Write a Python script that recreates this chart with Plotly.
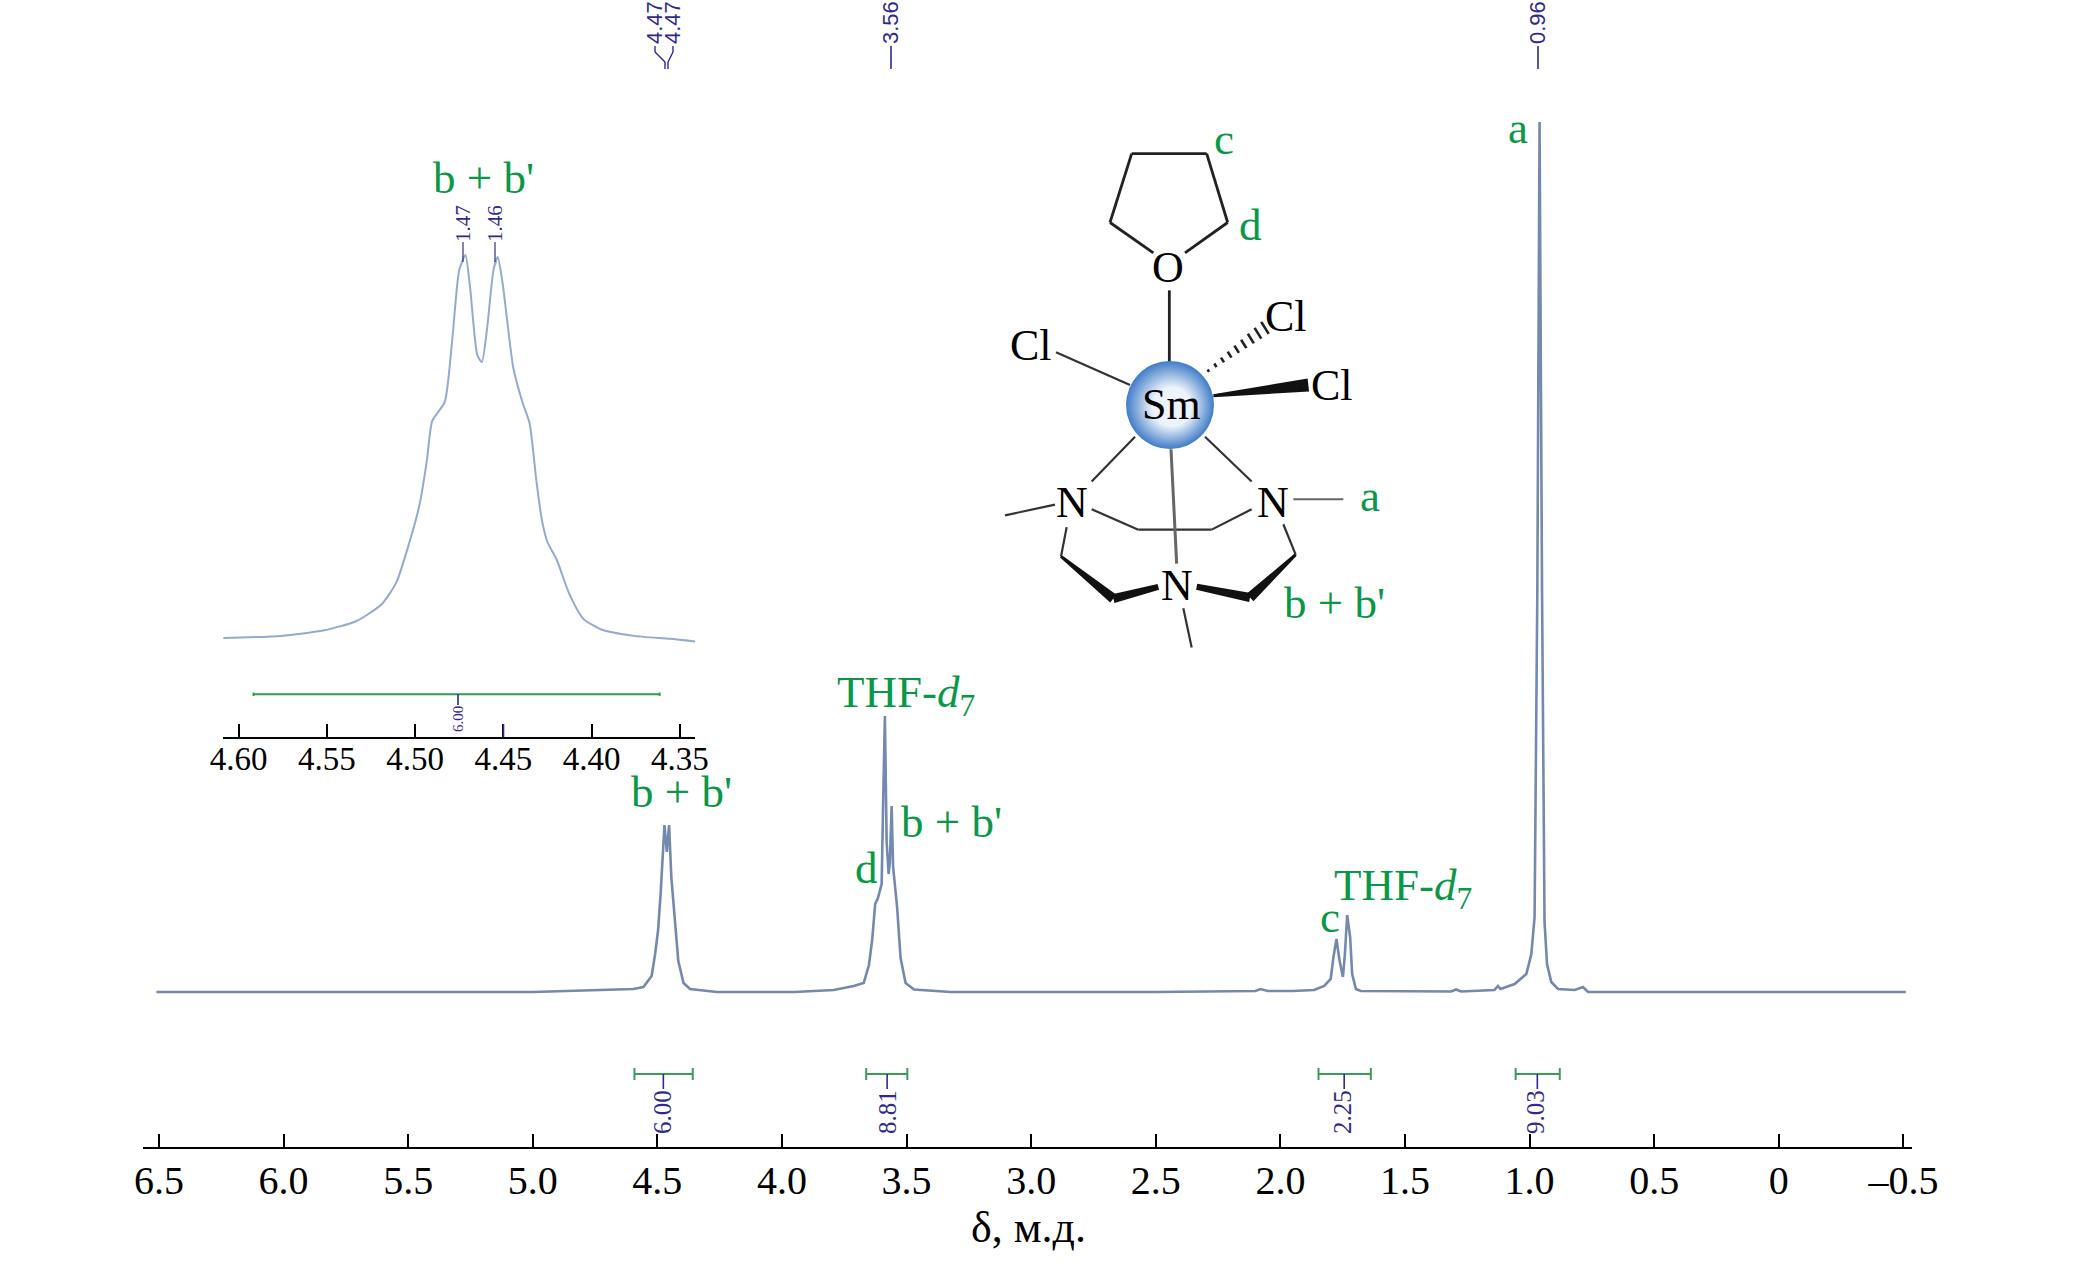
import math
import plotly.graph_objects as go

W, H = 2079, 1264
SERIF = "Liberation Serif"
GREEN = "#0a9848"
BLUE = "#2f2a8e"
LINE = "#7389ae"

# ---- main spectrum (delta ppm, intensity) ----
delta = [6.51, 5.0, 4.73, 4.597, 4.556, 4.523, 4.509, 4.497, 4.487, 4.477, 4.4715, 4.462, 4.453, 4.444, 4.435, 4.425,
         4.416, 4.395, 4.369, 4.261, 3.95, 3.792, 3.712, 3.672, 3.651, 3.638, 3.626, 3.615, 3.600, 3.594, 3.587, 3.580,
         3.572, 3.567, 3.560, 3.554, 3.549, 3.538, 3.524, 3.504, 3.470, 3.323, 2.5, 2.10, 2.08, 2.05, 1.95, 1.865, 1.824,
         1.798, 1.787, 1.775, 1.763, 1.749, 1.741, 1.732, 1.720, 1.712, 1.697, 1.677, 1.315, 1.295, 1.275, 1.141,
         1.127, 1.117, 1.060, 1.013, 0.993, 0.980, 0.969, 0.960, 0.950, 0.940, 0.930, 0.913, 0.886, 0.819, 0.786,
         0.765, 0.39, -0.51]
intensity = [0, 0, 2, 3, 5, 16, 38, 62, 98, 150, 167, 140, 167, 115, 88, 58,
             31, 9, 3, 0, 0, 2, 6, 9, 27, 52, 88, 94, 108, 190, 276, 150,
             118, 130, 186, 125, 112, 85, 34, 9, 2.5, 0, 0, 1, 3, 1, 1, 2, 6,
             13, 35, 53, 32, 15, 38, 77, 55, 18, 3, 1, 0.5, 2.5, 0.5, 2,
             6, 3, 8, 18, 38, 75, 400, 870, 400, 70, 28, 10, 3, 2, 5,
             0, 0, 0]

# ---- inset spectrum ----
inset_delta = [4.6086, 4.5759, 4.5515, 4.5331, 4.5188, 4.5107, 4.5025, 4.4974, 4.4934, 4.4903, 4.4832, 4.4791, 4.4750,
               4.4715, 4.4689, 4.4648, 4.4622, 4.4593, 4.4556, 4.4532, 4.4505, 4.4444, 4.4393, 4.4352, 4.4312, 4.4281,
               4.4250, 4.4199, 4.4128, 4.4047, 4.3945, 4.3761, 4.3557, 4.3415]
inset_intensity = [0, 5, 18, 40, 80, 130, 235, 315, 415, 510, 555, 695, 865, 900, 825, 665, 648, 725, 865, 895, 835,
                   635, 555, 505, 365, 275, 225, 185, 105, 45, 20, 5, -2, -8]

# ---- axes ----
main_ticks = [6.5, 6.0, 5.5, 5.0, 4.5, 4.0, 3.5, 3.0, 2.5, 2.0, 1.5, 1.0, 0.5, 0, -0.5]
main_labels = ["6.5", "6.0", "5.5", "5.0", "4.5", "4.0", "3.5", "3.0", "2.5", "2.0", "1.5", "1.0", "0.5", "0", "–0.5"]
inset_ticks = [4.60, 4.55, 4.50, 4.45, 4.40, 4.35]
inset_labels = ["4.60", "4.55", "4.50", "4.45", "4.40", "4.35"]

# ---- integrals ----
int_from = [4.592, 3.662, 1.847, 1.056]
int_to = [4.358, 3.497, 1.637, 0.879]
int_mid = [4.476, 3.578, 1.744, 0.969]
int_text = ["6.00", "8.81", "2.25", "9.03"]
INT_Y = -82

fx = lambda x: x / W
fy = lambda y: 1 - y / H


def seg(px, py, qx, qy, color="black", width=2.5):
    return dict(type="line", xref="paper", yref="paper", x0=fx(px), y0=fy(py), x1=fx(qx), y1=fy(qy),
                line=dict(color=color, width=width), layer="above")


def sx(z):
    return 950 + z / 3


def sy(z):
    return 110 + z / 2.8


def zseg(a, b, c, d, color="#111", width=2.2):
    return seg(sx(a), sy(b), sx(c), sy(d), color, width)


def wedge(a, b, c, d, w0, w1, color="#111"):
    x0, y0, x1, y1 = sx(a), sy(b), sx(c), sy(d)
    L = math.hypot(x1 - x0, y1 - y0)
    nx, ny = -(y1 - y0) / L, (x1 - x0) / L
    pts = [(x0 + nx * w0 / 2, y0 + ny * w0 / 2), (x1 + nx * w1 / 2, y1 + ny * w1 / 2),
           (x1 - nx * w1 / 2, y1 - ny * w1 / 2), (x0 - nx * w0 / 2, y0 - ny * w0 / 2)]
    path = "M " + " L ".join(f"{fx(p):.5f},{fy(q):.5f}" for p, q in pts) + " Z"
    return dict(type="path", xref="paper", yref="paper", path=path, fillcolor=color, line=dict(width=0), layer="above")


shapes = []
for b in [(480, 315, 545, 122), (545, 122, 770, 122), (770, 122, 833, 315), (480, 315, 610, 400), (833, 315, 705, 400),
          (658, 505, 658, 705)]:
    shapes.append(zseg(*b, color="#222", width=2.8))
for b in [(318, 678, 540, 770), (555, 915, 425, 1040), (765, 915, 905, 1040), (165, 1135, 315, 1105),
          (425, 1118, 565, 1175), (565, 1175, 785, 1175), (785, 1175, 905, 1118), (350, 1168, 333, 1250),
          (1000, 1160, 1037, 1245), (700, 1395, 725, 1505)]:
    shapes.append(zseg(*b, color="#333", width=2.2))
shapes.append(zseg(1030, 1090, 1180, 1090, color="#666", width=2))
shapes.append(zseg(663, 950, 680, 1270, color="#666", width=3))
shapes.append(wedge(790, 800, 1075, 770, 3, 13))
shapes.append(wedge(333, 1250, 490, 1368, 3, 10))
shapes.append(wedge(490, 1368, 625, 1335, 9, 6))
shapes.append(wedge(1037, 1245, 900, 1365, 3, 10))
shapes.append(wedge(900, 1365, 740, 1335, 9, 6))
N_HASH = 9
for i in range(N_HASH):
    t = i / (N_HASH - 1)
    cx, cy = sx(775 + 170 * t), sy(730 - 120 * t)
    half = 1.5 + 6 * t
    shapes.append(seg(cx - half * 0.5, cy - half * 0.8, cx + half * 0.5, cy + half * 0.8, "#222", 2.6))
CX, CY, R = 1170, 405, 44
STEPS = 30
for i in range(STEPS):
    t = i / (STEPS - 1)
    r = R * (1 - 0.92 * t)
    c0, c1 = (70, 128, 202), (236, 243, 251)
    k = min(1, t * 1.7)
    col = "rgb(%d,%d,%d)" % tuple(round(a + (b - a) * k) for a, b in zip(c0, c1))
    ox, oy = 3 * t, 3 * t
    shapes.append(dict(type="circle", xref="paper", yref="paper", x0=fx(CX + ox - r), x1=fx(CX + ox + r),
                       y0=fy(CY + oy - r), y1=fy(CY + oy + r), fillcolor=col, line=dict(width=0), layer="above"))
shapes += [seg(891, 46, 891, 69, BLUE, 1.6), seg(1538, 46, 1538, 69, BLUE, 1.6)]
for xa, xb in [(655, 665), (673, 668)]:
    shapes += [seg(xa, 46, xa, 52, BLUE, 1.4), seg(xa, 52, xb, 62, BLUE, 1.4), seg(xb, 62, xb, 69, BLUE, 1.4)]
shapes += [seg(463, 242, 463, 262, BLUE, 1.2), seg(495, 242, 495, 262, BLUE, 1.2), seg(458, 694, 458, 705, BLUE, 1.6),
           seg(503.5, 724, 503.5, 737, BLUE, 1.6)]

anns = []


def text(x, y, s, size, color, angle=0, font=SERIF):
    anns.append(dict(xref="paper", yref="paper", x=fx(x), y=fy(y), text=s, showarrow=False, textangle=angle,
                     xanchor="center", yanchor="middle", font=dict(family=font, size=size, color=color)))


THF = "THF-<i>d</i><sub>7</sub>"
BB = "b + b'"
for x, y, s in [(483, 178, BB), (906, 695, THF), (681, 792, BB), (951, 822, BB), (866, 868, "d"), (1330, 917, "c"),
                (1403, 888, THF), (1518, 128, "a"), (1224, 139, "c"), (1250, 225, "d"), (1370, 496, "a"),
                (1334, 603, BB)]:
    text(x, y, s, 45, GREEN)
for z1, z2, s in [(655, 440, "O"), (243, 660, "Cl"), (1008, 578, "Cl"), (1145, 772, "Cl"), (665, 825, "Sm"),
                  (365, 1098, "N"), (968, 1098, "N"), (680, 1330, "N")]:
    text(sx(z1), sy(z2), s, 44, "black")
for x, s in [(1342, "2.25"), (1535, "9.03"), (662, "6.00"), (887, "8.81")]:
    text(x, 1112, s, 25, BLUE, -90)
for x, s in [(655, "4.47"), (673, "4.47"), (891, "3.56"), (1538, "0.96")]:
    text(x, 23, s, 22, BLUE, -90, "Liberation Sans")
text(463, 224, "1.47", 21, BLUE, -90)
text(495, 224, "1.46", 21, BLUE, -90)
text(458, 719, "6.00", 15, BLUE, -90)
text(1028, 1227, "δ, м.д.", 44, "black")

fig = go.Figure()
fig.add_trace(go.Scatter(x=delta, y=intensity, mode="lines", line=dict(color=LINE, width=2.6), hoverinfo="skip"))
fig.add_trace(go.Scatter(x=inset_delta, y=inset_intensity, xaxis="x2", yaxis="y2", mode="lines",
                         line=dict(color="#93abd0", width=2, shape="spline", smoothing=0.6), hoverinfo="skip"))

ix, iy, sxx, syy = [], [], [], []
for a, b, m in zip(int_from, int_to, int_mid):
    ix += [a, a, None, a, b, None, b, b, None]
    iy += [INT_Y - 6, INT_Y + 6, None, INT_Y, INT_Y, None, INT_Y - 6, INT_Y + 6, None]
    sxx += [m, m, None]
    syy += [INT_Y, INT_Y - 15, None]
fig.add_trace(go.Scatter(x=ix, y=iy, mode="lines", line=dict(color="#3f9a5c", width=2), hoverinfo="skip"))
fig.add_trace(go.Scatter(x=sxx, y=syy, mode="lines", line=dict(color=BLUE, width=1.6), hoverinfo="skip"))
INSET_Y = -132
fig.add_trace(go.Scatter(x=[4.5915, 4.3615, None, 4.5915, 4.5915, None, 4.3615, 4.3615],
                         y=[INSET_Y, INSET_Y, None, INSET_Y - 4, INSET_Y + 4, None, INSET_Y - 4, INSET_Y + 4],
                         xaxis="x2", yaxis="y2", mode="lines", line=dict(color="#2f9e4f", width=2), hoverinfo="skip"))

fig.update_layout(
    width=W, height=H, autosize=False, showlegend=False, margin=dict(l=0, r=0, t=0, b=0, autoexpand=False),
    paper_bgcolor="white", plot_bgcolor="rgba(0,0,0,0)", shapes=shapes, annotations=anns,
    xaxis=dict(domain=[143 / W, 1912 / W], range=[6.564, -0.5345], automargin=False, tickmode="array",
               tickvals=main_ticks, ticktext=main_labels, ticks="inside", ticklen=13, tickwidth=2, tickcolor="black",
               showline=True, linewidth=2, linecolor="black", showgrid=False, zeroline=False, ticklabelstandoff=-3,
               tickfont=dict(family=SERIF, size=40, color="black")),
    yaxis=dict(domain=[1 - 1147 / H, 1], range=[-155, 992], visible=False, anchor="x", automargin=False),
    xaxis2=dict(domain=[222.8 / W, 695 / W], range=[4.6089, 4.3415], anchor="y2", automargin=False, tickmode="array",
                tickvals=inset_ticks, ticktext=inset_labels, ticks="inside", ticklen=13, tickwidth=1.6,
                tickcolor="black", showline=True, linewidth=1.8, linecolor="black", showgrid=False, zeroline=False,
                ticklabelstandoff=-9, tickfont=dict(family=SERIF, size=33, color="black")),
    yaxis2=dict(domain=[1 - 737 / H, 1 - 150 / H], range=[-232.6, 1146.6], visible=False, anchor="x2",
                automargin=False),
)

fig.write_html("out.html", config=dict(displayModeBar=False),
               post_script="document.body.style.margin='0';document.documentElement.style.overflow='hidden';")
